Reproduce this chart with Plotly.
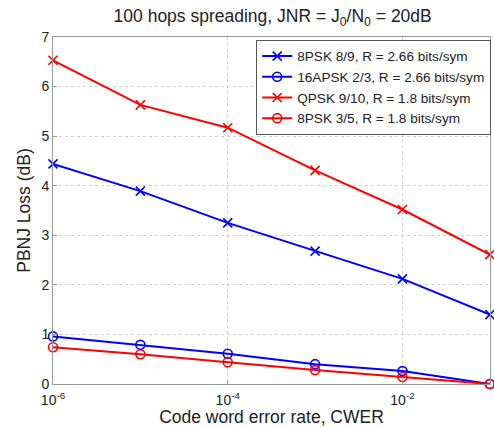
import plotly.graph_objects as go

cwer = [1e-6, 1e-5, 1e-4, 1e-3, 1e-2, 1e-1]
psk8_89 = [4.44, 3.89, 3.25, 2.68, 2.12, 1.40]
apsk16_23 = [0.96, 0.79, 0.61, 0.40, 0.26, 0.0]
qpsk_910 = [6.53, 5.63, 5.17, 4.31, 3.52, 2.61]
psk8_35 = [0.74, 0.60, 0.44, 0.28, 0.14, 0.0]

names = ["8PSK 8/9, R = 2.66 bits/sym", "16APSK 2/3, R = 2.66 bits/sym",
         "QPSK 9/10, R = 1.8 bits/sym", "8PSK 3/5, R = 1.8 bits/sym"]
xtickvals = [1e-6, 1e-4, 1e-2]
xticktext = ["10<sup>-6</sup>", "10<sup>-4</sup>", "10<sup>-2</sup>"]
ytickvals = [0, 1, 2, 3, 4, 5, 6, 7]

BLUE = "#0000ff"
RED = "#ff0000"
series = [
    (psk8_89, names[0], BLUE, "x-thin-open"),
    (apsk16_23, names[1], BLUE, "circle-open"),
    (qpsk_910, names[2], RED, "x-thin-open"),
    (psk8_35, names[3], RED, "circle-open"),
]

fig = go.Figure()
for ys, nm, col, sym in series:
    fig.add_trace(go.Scatter(
        x=cwer, y=ys, name=nm, mode="lines+markers",
        line=dict(color=col, width=2),
        marker=dict(symbol=sym, size=9, color=col, line=dict(color=col, width=1.6)),
        cliponaxis=False,
    ))

font = "Liberation Sans, Arial, sans-serif"
fig.update_layout(
    width=494, height=427,
    paper_bgcolor="white", plot_bgcolor="white",
    margin=dict(l=53, r=4, t=37, b=43, autoexpand=False),
    font=dict(family=font, size=14, color="#222"),
    title=dict(text="100 hops spreading, JNR = J<sub>0</sub>/N<sub>0</sub> = 20dB",
               x=0.552, xanchor="center", y=0.962, yanchor="middle",
               font=dict(size=17.5, family=font, color="#222")),
    showlegend=True,
    legend=dict(x=0.465, y=0.992, xanchor="left", yanchor="top",
                bgcolor="white", bordercolor="#555", borderwidth=1,
                font=dict(size=13.6, family=font, color="#222"),
                tracegroupgap=0, itemwidth=30),
    xaxis=dict(type="log", range=[-6, -0.998], tickvals=xtickvals, ticktext=xticktext,
               showgrid=True, gridcolor="#cfcfcf", griddash="dot", gridwidth=1,
               showline=True, linecolor="#999", mirror=True, ticks="inside",
               ticklen=4, tickcolor="#999", zeroline=False, ticklabelstandoff=3,
               title=dict(text="Code word error rate, CWER", standoff=2,
                          font=dict(size=17.5, family=font, color="#222")),
               tickfont=dict(size=14, family=font, color="#222")),
    yaxis=dict(range=[0, 7], tickvals=ytickvals,
               showgrid=True, gridcolor="#cfcfcf", griddash="dot", gridwidth=1,
               showline=True, linecolor="#999", mirror=True, ticks="inside",
               ticklen=4, tickcolor="#999", zeroline=False,
               title=dict(text="PBNJ Loss (dB)", standoff=6,
                          font=dict(size=17.5, family=font, color="#222")),
               tickfont=dict(size=14, family=font, color="#222")),
)

fig.write_html("out.html", config={"displayModeBar": False},
               post_script="document.body.style.margin='0';document.body.style.overflow='hidden';")
